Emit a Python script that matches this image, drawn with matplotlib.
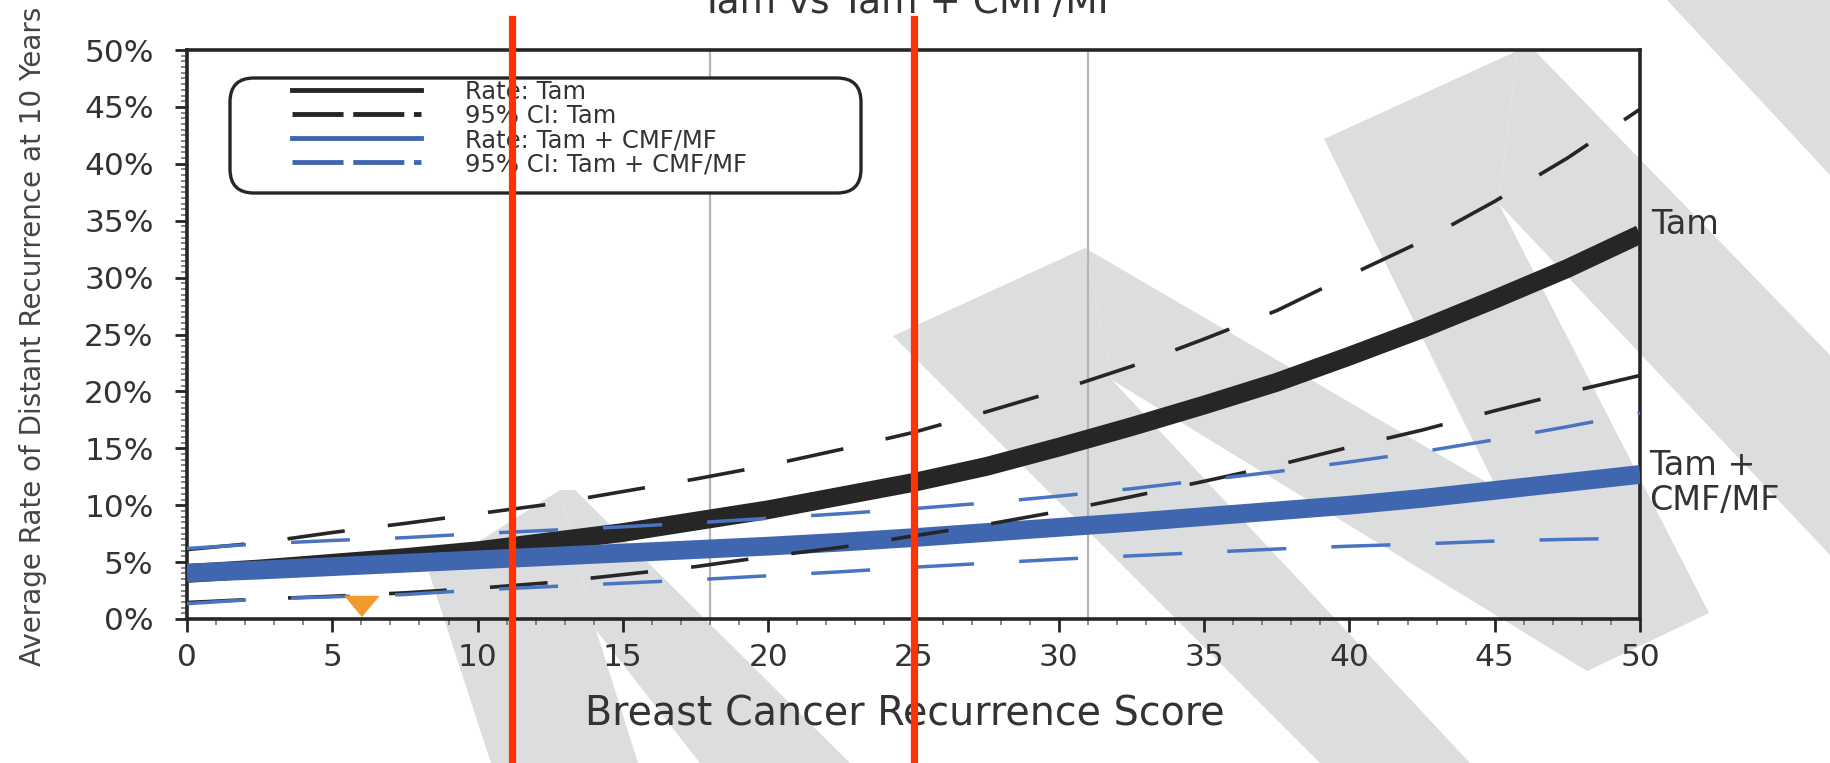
import matplotlib.pyplot as plt
from matplotlib.lines import Line2D
from matplotlib.patches import Polygon, FancyBboxPatch
from matplotlib.ticker import MultipleLocator, FuncFormatter

plt.rcParams['font.family'] = ['DejaVu Sans']

# recurrence score grid and 10-year distant recurrence rates (%)
score = [0, 2.5, 5, 7.5, 10, 12.5, 15, 17.5, 20, 22.5, 25,
         27.5, 30, 32.5, 35, 37.5, 40, 42.5, 45, 47.5, 50]
tam_rate = [4.0, 4.4, 4.9, 5.4, 6.0, 6.8, 7.6, 8.6, 9.6, 10.8, 12.0,
            13.4, 15.1, 16.9, 18.8, 20.8, 23.1, 25.5, 28.1, 30.8, 33.8]
tam_upper = [6.1, 6.7, 7.6, 8.4, 9.25, 10.1, 11.2, 12.3, 13.5, 14.9, 16.4,
             18.2, 20.1, 22.2, 24.6, 27.1, 30.2, 33.2, 36.7, 40.5, 44.8]
tam_lower = [1.45, 1.75, 2.0, 2.3, 2.7, 3.2, 3.9, 4.6, 5.5, 6.3, 7.3,
             8.3, 9.45, 10.75, 12.1, 13.5, 15.1, 16.6, 18.3, 19.9, 21.4]
chemo_rate = [4.05, 4.3, 4.6, 4.9, 5.2, 5.5, 5.8, 6.1, 6.4, 6.75, 7.15,
              7.6, 8.05, 8.5, 9.0, 9.5, 10.0, 10.6, 11.3, 12.0, 12.7]
chemo_upper = [6.2, 6.6, 6.9, 7.15, 7.5, 7.8, 8.1, 8.45, 8.85, 9.25, 9.7,
               10.2, 10.8, 11.45, 12.2, 12.95, 13.8, 14.7, 15.75, 16.9, 18.1]
chemo_lower = [1.35, 1.75, 1.95, 2.15, 2.55, 2.85, 3.15, 3.45, 3.8, 4.15, 4.55,
               4.9, 5.25, 5.55, 5.85, 6.15, 6.4, 6.6, 6.85, 7.0, 7.1]

risk_cutoffs = [18, 31]
marked_scores = [11.2, 25]
patient_score = [6]
patient_y = [1.1]

legend_labels = ["Rate: Tam", "95% CI: Tam",
                 "Rate: Tam + CMF/MF", "95% CI: Tam + CMF/MF"]

BLACK = "#262626"
BLUE = "#4166b0"
BLUE_CI = "#4a74c2"
TXT = "#333333"

W, H = 1830, 763
fig = plt.figure(figsize=(W / 100, H / 100), dpi=100)

# grey background shapes, pixel coords from the top-left corner
shapes = [
    [(1667, 0), (1830, 0), (1830, 175)],
    [(1324, 139), (1517, 51), (1499, 204), (1709, 613), (1587, 671)],
    [(1517, 51), (1535, 51), (1830, 355), (1830, 555), (1499, 204)],
    [(893, 336), (1085, 248), (1112, 380), (1470, 763), (1320, 763)],
    [(1085, 248), (1709, 612), (1587, 671), (1112, 380)],
    [(429, 573), (560, 490), (596, 630), (638, 763), (491, 763)],
    [(560, 490), (575, 490), (850, 763), (700, 763), (596, 630)],
]
for pts in shapes:
    fig.add_artist(Polygon([(x / W, 1 - y / H) for x, y in pts], closed=True,
                           transform=fig.transFigure, facecolor="#dcdddf",
                           edgecolor="none", zorder=-5))

ax = fig.add_axes([187 / W, 1 - 619 / H, (1640 - 187) / W, (619 - 50) / H])
ax.patch.set_alpha(0)
ax.set_xlim(0, 50)
ax.set_ylim(0, 50)

for xc in risk_cutoffs:
    ax.axvline(xc, color="#b8b4ae", lw=1.6, zorder=1)

# rate curves
ax.plot(score, tam_rate, color=BLACK, lw=13.5, solid_capstyle="butt", zorder=2)
ax.plot(score, chemo_rate, color=BLUE, lw=13.5, solid_capstyle="butt", zorder=3)

# confidence bands
ax.plot(score, tam_upper, color=BLACK, lw=2.6, dashes=(16, 12), zorder=4)
ax.plot(score, tam_lower, color=BLACK, lw=2.6, dashes=(16, 12), zorder=4)
ax.plot(score, chemo_upper, color=BLUE_CI, lw=2.5, dashes=(17, 13), zorder=4.5)
ax.plot(score, chemo_lower, color=BLUE_CI, lw=2.5, dashes=(17, 13), zorder=4.5)

ax.plot(patient_score, patient_y, linestyle="none", color="#f39a2f",
        marker=[(-1, 0.6), (1, 0.6), (0, -0.6)], markersize=24, zorder=6,
        clip_on=False)

for xr in marked_scores:
    ax.axvline(xr, ymin=-0.26, ymax=(619 - 19) / 569, color="#ff3300", lw=5.2,
               clip_on=False, zorder=10)

# axes styling
for side in ["left", "right", "top", "bottom"]:
    ax.spines[side].set_linewidth(2.6)
    ax.spines[side].set_color(BLACK)

ax.xaxis.set_major_locator(MultipleLocator(5))
ax.xaxis.set_minor_locator(MultipleLocator(1))
ax.yaxis.set_major_locator(MultipleLocator(5))
ax.yaxis.set_minor_locator(MultipleLocator(0.5))
ax.yaxis.set_major_formatter(FuncFormatter(lambda v, p: f"{v:.0f}%"))
ax.tick_params(axis="both", which="major", direction="out", length=9, width=2,
               color=BLACK, labelsize=22.5, labelcolor=TXT)
ax.tick_params(axis="both", which="minor", direction="out", length=4, width=1.1,
               color="#666666")
ax.tick_params(axis="x", which="major", pad=8)
ax.tick_params(axis="y", which="major", pad=15)

ax.set_xlabel("Breast Cancer Recurrence Score", fontsize=28.5, color=TXT, va="center")
ax.xaxis.set_label_coords((905 - 187) / 1453, (619 - 714) / 569)
ax.set_ylabel("Average Rate of Distant Recurrence at 10 Years", fontsize=20,
              color="#444444", va="center")
ax.yaxis.set_label_coords((33 - 187) / 1453, 0.497)

fig.text(910 / W, 1 - 13 / H, "Tam vs Tam + CMF/MF", ha="center", va="baseline",
         fontsize=27, color=TXT)

ax.text(50.4, 34.7, "Tam", fontsize=24, color=TXT, ha="left", va="center",
        clip_on=False)
ax.text(50.3, 11.95, "Tam +\nCMF/MF", fontsize=24, color=TXT, ha="left",
        va="center", linespacing=1.05, clip_on=False)

# legend with a rounded frame
box = FancyBboxPatch(((230 - 187) / 1453, (619 - 193) / 569),
                     (861 - 230) / 1453, (193 - 78) / 569,
                     boxstyle="round,pad=0,rounding_size=0.0165",
                     mutation_aspect=1453 / 569, transform=ax.transAxes,
                     facecolor="white", edgecolor=BLACK, lw=2.4, zorder=7)
ax.add_patch(box)
handles = [
    Line2D([], [], color=BLACK, lw=3.5),
    Line2D([], [], color=BLACK, lw=3.5, dashes=(10.5, 2)),
    Line2D([], [], color=BLUE, lw=3.5),
    Line2D([], [], color=BLUE, lw=3.5, dashes=(10.5, 2)),
]
leg = ax.legend(handles, legend_labels, loc="upper left",
                bbox_to_anchor=((292 - 187) / 1453, (619 - 80) / 569),
                frameon=False, borderpad=0, borderaxespad=0, handlelength=5.3,
                handletextpad=1.8, labelspacing=0.0, fontsize=17.5)
leg.set_zorder(8)
for t in leg.get_texts():
    t.set_color(TXT)

fig.savefig("out.png", dpi=100)
